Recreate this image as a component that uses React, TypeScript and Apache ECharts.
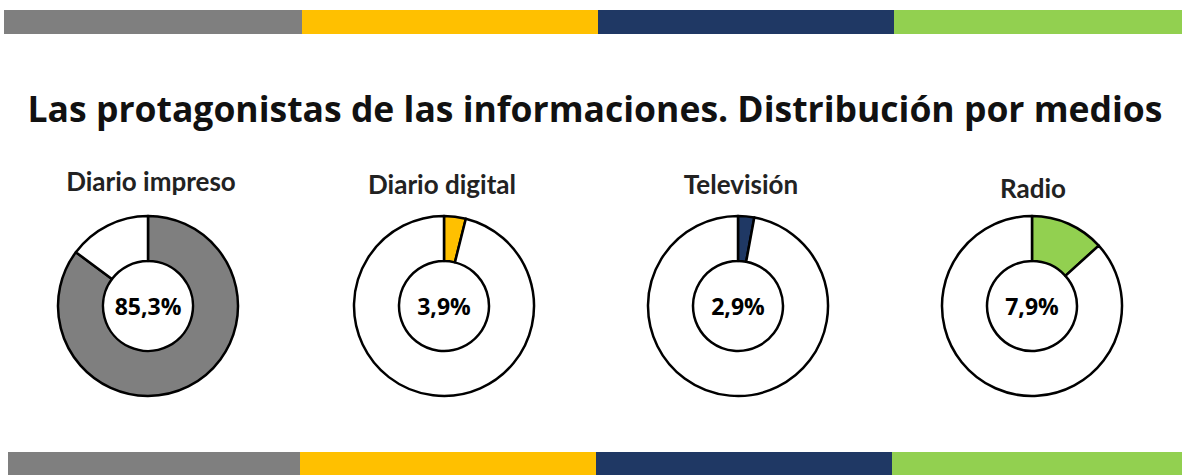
import React, { useEffect, useRef } from "react";
import * as echarts from "echarts";

const categories = ["Diario impreso", "Diario digital", "Televisión", "Radio"];
// share as printed in the centre of each donut
const valueLabels = ["85,3%", "3,9%", "2,9%", "7,9%"];
// size of the coloured wedge as drawn in the picture (percent of the ring)
const wedgeShares = [85.2, 3.9, 2.9, 13.3];
const mainTitle = "Las protagonistas de las informaciones. Distribución por medios";
const palette = ["#7f7f7f", "#ffc000", "#1f3864", "#92d050"];

const centersX = [148, 444, 738, 1032];
const centerY = 306;
const labelX = [146, 437, 736, 1028];
const labelTop = [163, 166, 166, 170];

export default function App() {
  const ref = useRef<HTMLDivElement>(null);
  useEffect(() => {
    if (!ref.current) return;
    const chart = echarts.init(ref.current, null, { renderer: "svg" });

    const titles: any[] = [
      {
        text: mainTitle,
        left: 590,
        top: 85,
        textAlign: "center",
        textStyle: { fontFamily: "Open Sans", fontWeight: "bold", fontSize: 35.5, color: "#111" },
      },
    ];
    categories.forEach((c, i) => {
      titles.push({
        text: c,
        left: labelX[i],
        top: labelTop[i],
        textAlign: "center",
        textStyle: { fontFamily: "Lato", fontWeight: "bold", fontSize: 26, color: "#222" },
      });
    });

    const series: any[] = categories.map((c, i) => ({
      type: "pie",
      name: c,
      center: [centersX[i], centerY],
      radius: [45, 90],
      startAngle: 90,
      clockwise: true,
      silent: true,
      avoidLabelOverlap: false,
      labelLine: { show: false },
      itemStyle: { borderColor: "#000", borderWidth: 2.5 },
      label: { show: false },
      data: [
        {
          value: wedgeShares[i],
          name: c,
          itemStyle: { color: palette[i] },
          label: {
            show: true,
            position: "center",
            formatter: valueLabels[i],
            fontFamily: "Open Sans",
            fontWeight: "bold",
            fontSize: 23,
            color: "#000",
          },
        },
        {
          value: +(100 - wedgeShares[i]).toFixed(1),
          name: "resto",
          itemStyle: { color: "#fff" },
        },
      ],
    }));

    const bars: any[] = [];
    const topEdges = [4, 302, 598, 894, 1182];
    const botEdges = [8, 300, 596, 892, 1182];
    for (let i = 0; i < 4; i++) {
      bars.push({
        type: "rect",
        shape: { x: topEdges[i], y: 10, width: topEdges[i + 1] - topEdges[i], height: 24 },
        style: { fill: palette[i] },
      });
      bars.push({
        type: "rect",
        shape: { x: botEdges[i], y: 452, width: botEdges[i + 1] - botEdges[i], height: 23 },
        style: { fill: palette[i] },
      });
    }

    chart.setOption({
      animation: false,
      backgroundColor: "#fff",
      title: titles,
      series,
      graphic: bars,
    });
    return () => chart.dispose();
  }, []);
  return (
    <div
      ref={ref}
      style={{ position: "fixed", left: 0, top: 0, width: 1186, height: 475 }}
    />
  );
}
